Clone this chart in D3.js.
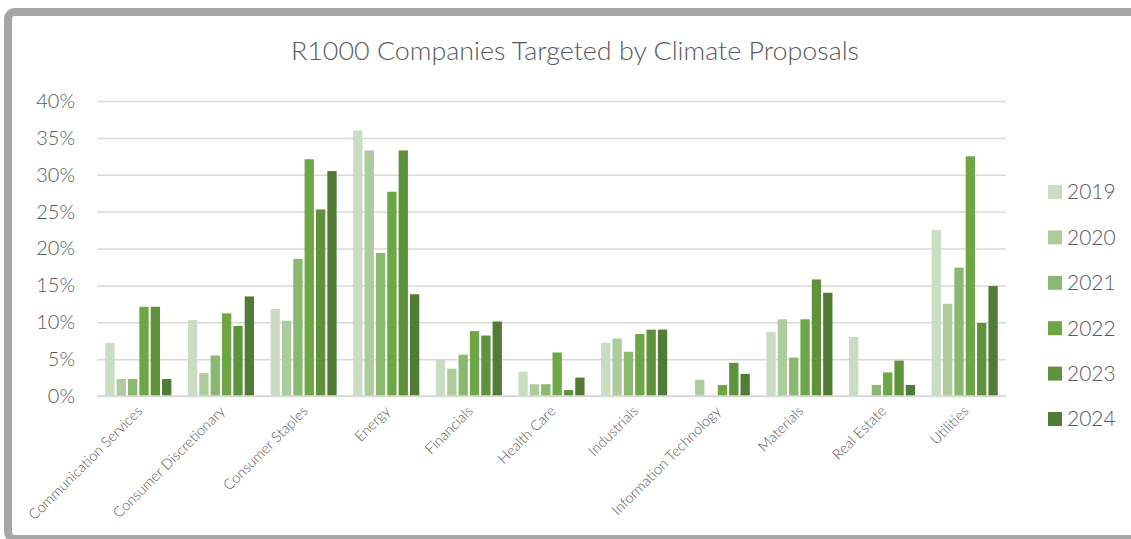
<!DOCTYPE html>
<html>
<head>
<meta charset="utf-8">
<script src="https://cdn.jsdelivr.net/npm/d3@7"></script>
<style>
  html, body { margin: 0; padding: 0; background: #fff; }
  svg { display: block; font-family: Lato, "Open Sans", sans-serif; }
</style>
</head>
<body>
<svg id="chart" width="1131" height="539"></svg>
<script>
// Sectors on the x axis
const categories = [
  "Communication Services", "Consumer Discretionary", "Consumer Staples", "Energy",
  "Financials", "Health Care", "Industrials", "Information Technology",
  "Materials", "Real Estate", "Utilities"
];

// Proxy years (one bar per year in each sector)
const years = ["2019", "2020", "2021", "2022", "2023", "2024"];

// Share of R1000 companies targeted, in %, per year across the sectors above
const v2019 = [7.2, 10.3, 11.8, 36.0, 5.0, 3.3, 7.2, 0, 8.7, 8.0, 22.5];
const v2020 = [2.3, 3.1, 10.2, 33.3, 3.7, 1.6, 7.8, 2.2, 10.4, 0, 12.5];
const v2021 = [2.3, 5.5, 18.6, 19.4, 5.6, 1.6, 6.0, 0, 5.2, 1.5, 17.4];
const v2022 = [12.1, 11.2, 32.1, 27.7, 8.8, 5.9, 8.4, 1.5, 10.4, 3.2, 32.5];
const v2023 = [12.1, 9.5, 25.3, 33.3, 8.2, 0.8, 9.0, 4.5, 15.8, 4.8, 9.9];
const v2024 = [2.3, 13.5, 30.5, 13.8, 10.1, 2.5, 9.0, 3.0, 14.0, 1.5, 14.9];

const yTicks = [0, 5, 10, 15, 20, 25, 30, 35, 40];
const colors = ["#cadcc2", "#aecb9d", "#8bb871", "#6ea646", "#5e923b", "#507c35"];

const seriesValues = [v2019, v2020, v2021, v2022, v2023, v2024];
const rows = categories.map((c, i) => ({
  category: c,
  values: years.map((y, j) => ({ year: y, value: seriesValues[j][i] }))
}));

const svg = d3.select("#chart");

// Card frame with a thick grey border
svg.append("rect")
  .attr("x", 8).attr("y", 12)
  .attr("width", 1140).attr("height", 527)
  .attr("rx", 7)
  .attr("fill", "#fff")
  .attr("stroke", "#a6a6a6")
  .attr("stroke-width", 8);

const plot = { left: 97, right: 1006, top: 101, bottom: 396 };

const x = d3.scaleBand()
  .domain(categories)
  .range([plot.left, plot.right])
  .paddingInner(0.2)
  .paddingOuter(0.1);

const xInner = d3.scaleBand()
  .domain(years)
  .range([0, x.bandwidth()])
  .paddingInner(0.18);

const y = d3.scaleLinear()
  .domain([0, 40])
  .range([plot.bottom, plot.top]);

const color = d3.scaleOrdinal().domain(years).range(colors);

// Title
svg.append("text")
  .attr("x", 575).attr("y", 60)
  .attr("text-anchor", "middle")
  .attr("font-size", 26)
  .attr("font-weight", 300)
  .attr("fill", "#595959")
  .attr("textLength", 568)
  .attr("lengthAdjust", "spacingAndGlyphs")
  .text("R1000 Companies Targeted by Climate Proposals");

// Horizontal gridlines and y labels
const yAxis = d3.axisLeft(y)
  .tickValues(yTicks)
  .tickSize(-(plot.right - plot.left))
  .tickPadding(22)
  .tickFormat(d => d + "%");

const gy = svg.append("g")
  .attr("transform", `translate(${plot.left},0)`)
  .call(yAxis);
gy.select(".domain").remove();
gy.selectAll(".tick line").attr("stroke", "#d9d9d9").attr("stroke-width", 1.5);
gy.selectAll(".tick text")
  .attr("fill", "#595959")
  .attr("font-size", 20)
  .attr("font-weight", 300)
  .attr("font-family", "Lato, sans-serif");

// Bars
const groups = svg.append("g")
  .selectAll("g")
  .data(rows)
  .join("g")
  .attr("transform", d => `translate(${x(d.category)},0)`);

groups.selectAll("rect")
  .data(d => d.values.filter(v => v.value > 0))
  .join("rect")
  .attr("x", d => xInner(d.year))
  .attr("y", d => y(d.value))
  .attr("width", xInner.bandwidth())
  .attr("height", d => y(0) - y(d.value))
  .attr("fill", d => color(d.year));

// Baseline
svg.append("line")
  .attr("x1", plot.left).attr("x2", plot.right)
  .attr("y1", y(0)).attr("y2", y(0))
  .attr("stroke", "#d9d9d9").attr("stroke-width", 1.5);

// Rotated category labels
const xAxis = d3.axisBottom(x).tickSize(0).tickPadding(0);
const gx = svg.append("g")
  .attr("transform", `translate(0,${plot.bottom})`)
  .call(xAxis);
gx.select(".domain").remove();
gx.selectAll(".tick text")
  .attr("fill", "#595959")
  .attr("font-size", 14.5)
  .attr("font-weight", 300)
  .attr("font-family", "Lato, sans-serif")
  .attr("text-anchor", "end")
  .attr("dy", 0)
  .attr("transform", "translate(5,16) rotate(-45)");

// Legend
const legend = svg.append("g")
  .selectAll("g")
  .data(years)
  .join("g")
  .attr("transform", (d, i) => `translate(1048,${192 + i * 45.4})`);

legend.append("rect")
  .attr("x", 0).attr("y", -7)
  .attr("width", 14).attr("height", 14)
  .attr("fill", d => color(d));

legend.append("text")
  .attr("x", 19).attr("y", 0)
  .attr("dy", "0.35em")
  .attr("font-size", 21)
  .attr("font-weight", 300)
  .attr("fill", "#595959")
  .text(d => d);
</script>
</body>
</html>
